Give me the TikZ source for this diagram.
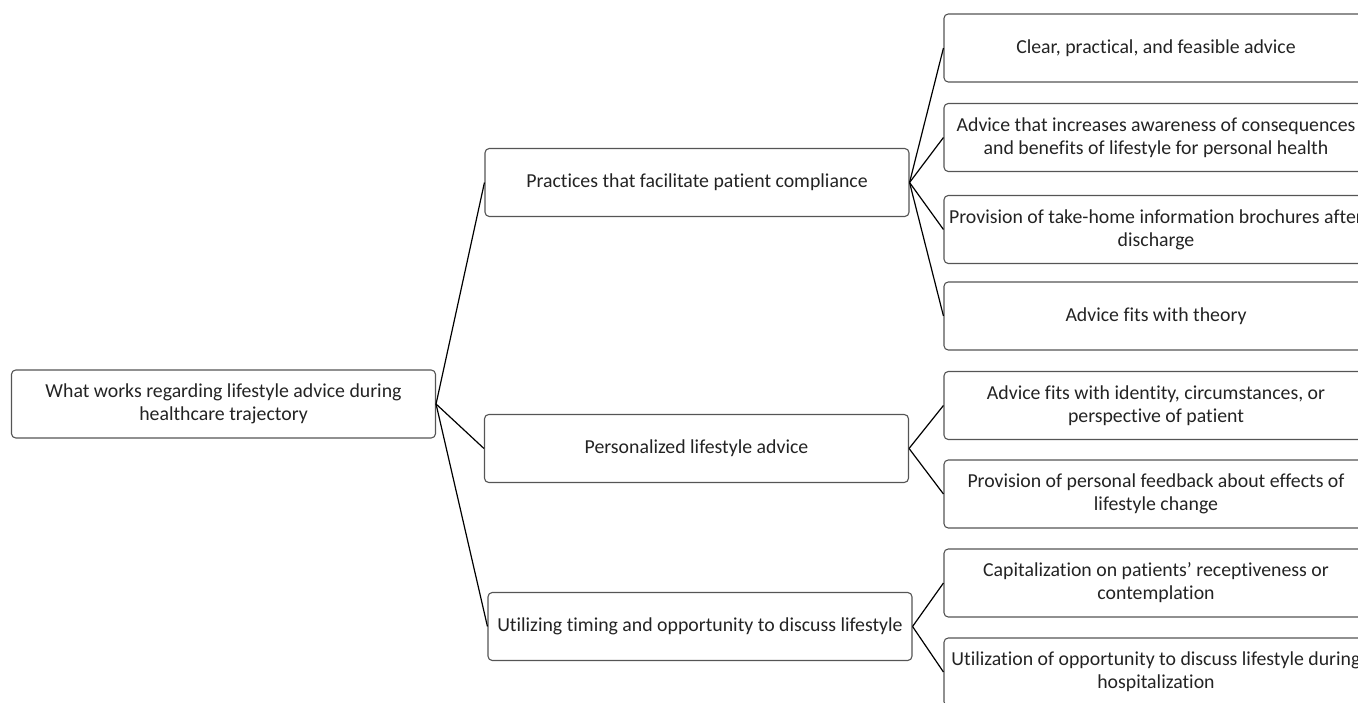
\documentclass[tikz,border=0pt]{standalone}
\usepackage{fontspec}
\setmainfont{Carlito}[Ligatures=NoCommon]
\definecolor{boxgray}{RGB}{85,85,85}
\definecolor{textgray}{RGB}{35,35,35}

\begin{document}
\begin{tikzpicture}[x=1pt, y=-1pt, font=\fontsize{19.8}{23}\selectfont,
        main/.style = {draw=boxgray, text=textgray, rectangle, rounded corners=1.5mm, line width=1.1pt, minimum width=424pt, minimum height=68pt, align=center, inner sep=2pt},
        link/.style = {draw=black, line width=1.2pt}]
    \clip (0,0) rectangle (1358,703);
    \node[main] (1) at (223.5,404) {What works regarding lifestyle advice during\\healthcare trajectory};
    \node[main] (2) at (697,182.5) {Practices that facilitate patient compliance};
    \node[main] (3) at (696.5,448.5) {Personalized lifestyle advice};
    \node[main] (4) at (700,626.5) {Utilizing timing and opportunity to discuss lifestyle};
    \node[main] (5) at (1156,48) {Clear, practical, and feasible advice};
    \node[main] (6) at (1156,137.5) {Advice that increases awareness of consequences\\and benefits of lifestyle for personal health};
    \node[main] (7) at (1156,229.5) {Provision of take-home information brochures after\\discharge};
    \node[main] (8) at (1156,316) {Advice fits with theory};
    \node[main] (9) at (1156,405.5) {Advice fits with identity, circumstances, or\\perspective of patient};
    \node[main] (10) at (1156,494) {Provision of personal feedback about effects of\\lifestyle change};
    \node[main] (11) at (1156,583) {Capitalization on patients’ receptiveness or\\contemplation};
    \node[main] (12) at (1156,672) {Utilization of opportunity to discuss lifestyle during\\hospitalization};
    \foreach \b in {2,3,4}
        \draw[link] (1.east) -- (\b.west);
    \foreach \b in {5,6,7,8}
        \draw[link] (2.east) -- (\b.west);
    \foreach \b in {9,10}
        \draw[link] (3.east) -- (\b.west);
    \foreach \b in {11,12}
        \draw[link] (4.east) -- (\b.west);
\end{tikzpicture}
\end{document}
